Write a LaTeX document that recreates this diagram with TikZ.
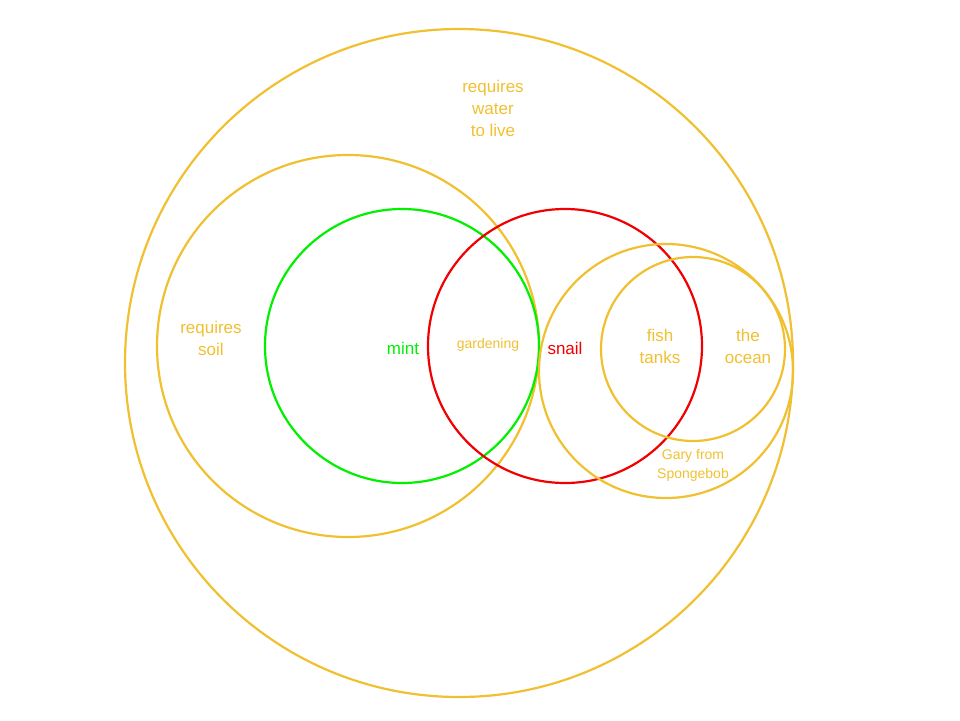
\documentclass[tikz,border=0pt]{standalone}
\usepackage{fontspec}
\setmainfont{Liberation Sans}
\definecolor{gold}{RGB}{240,192,48}
\definecolor{mgreen}{RGB}{0,240,0}
\definecolor{mred}{RGB}{240,0,0}
\begin{document}
\begin{tikzpicture}[x=1pt,y=-1pt,
  ring/.style={line width=2.2pt},
  lbl/.style={font=\fontsize{17}{22}\selectfont,align=center,text=gold},
  small/.style={font=\fontsize{14}{19}\selectfont,align=center,text=gold}]
\useasboundingbox (0,0) rectangle (960,720);
\draw[ring,gold] (459,363) circle[radius=334];
\draw[ring,gold] (348,346) circle[radius=191];
\draw[ring,mgreen] (402,346) circle[radius=137];
\draw[ring,mred] (565,346) circle[radius=137];
\draw[ring,gold] (666,371) circle[radius=127];
\draw[ring,gold] (693,349) circle[radius=92];
\node[lbl] (water) at (493,108) {requires\\water\\to live};
\node[lbl] (soil) at (211,338) {requires\\soil};
\node[lbl,text=mgreen] (mint) at (403,348) {mint};
\node[small] (gard) at (488,345) {gardening};
\node[lbl,text=mred] (snail) at (565,348) {snail};
\node[lbl] (fish) at (660,346) {fish\\tanks};
\node[lbl] (ocean) at (748,346) {the\\ocean};
\node[small] (gary) at (693,465) {Gary from\\Spongebob};
\end{tikzpicture}
\end{document}
